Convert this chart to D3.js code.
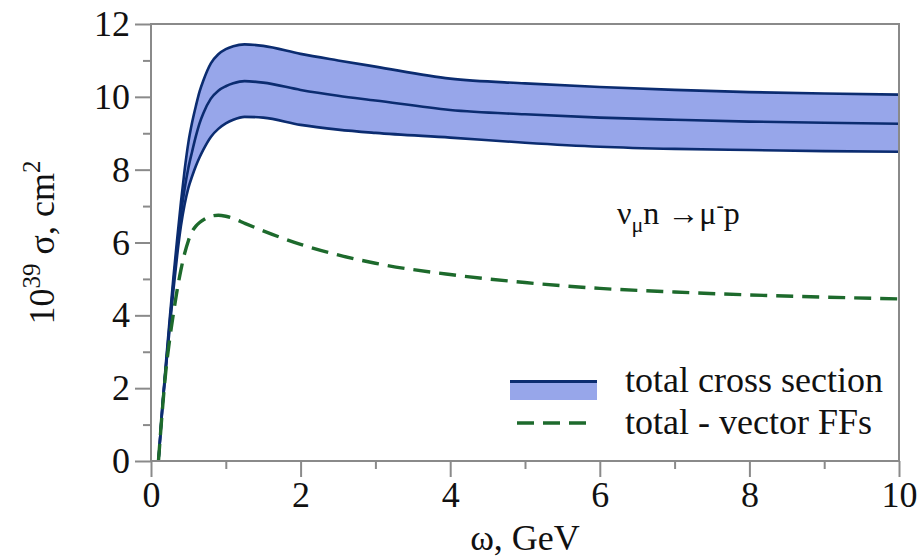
<!DOCTYPE html>
<html>
<head>
<meta charset="utf-8">
<script src="https://cdn.jsdelivr.net/npm/d3@7"></script>
<style>
  html, body { margin: 0; padding: 0; background: #fff; }
  svg { display: block; }
  svg text { font-family: "Liberation Serif", "DejaVu Serif", serif !important; fill: #111; }
</style>
</head>
<body>
<svg id="chart" width="923" height="557"></svg>
<script>
// ---- data ----
const omega = [0.1,0.15,0.2,0.25,0.3,0.35,0.4,0.45,0.5,0.55,0.6,0.65,0.7,0.8,0.9,1.0,1.1,1.25,1.5,2.0,2.5,3.0,4.0,5.0,6.0,7.0,8.0,9.0,10.0];
const sigmaUpper   = [0,1.45,2.7,3.9,5.05,6.1,7.1,8.0,8.75,9.3,9.75,10.15,10.45,10.92,11.17,11.31,11.39,11.44,11.4,11.18,11.0,10.83,10.5,10.37,10.27,10.19,10.13,10.09,10.06];
const sigmaCentral = [0,1.42,2.62,3.78,4.88,5.88,6.78,7.48,8.05,8.5,8.92,9.28,9.55,9.95,10.17,10.29,10.37,10.43,10.39,10.19,10.03,9.9,9.64,9.52,9.43,9.37,9.32,9.29,9.26];
const sigmaLower   = [0,1.4,2.55,3.65,4.7,5.65,6.45,7.05,7.5,7.82,8.1,8.34,8.55,8.9,9.12,9.27,9.37,9.45,9.43,9.23,9.1,9.01,8.88,8.74,8.63,8.57,8.54,8.51,8.49];
const sigmaNoVector = [0,1.35,2.5,3.35,4.05,4.7,5.25,5.7,6.05,6.3,6.45,6.55,6.62,6.72,6.75,6.72,6.66,6.53,6.32,5.95,5.66,5.43,5.12,4.9,4.74,4.64,4.56,4.5,4.45];

const xMajorTicks = [0,2,4,6,8,10];
const xMinorTicks = [1,3,5,7,9];
const yMajorTicks = [0,2,4,6,8,10,12];
const yMinorTicks = [1,3,5,7,9,11];
const legendLabels = ["total cross section", "total - vector FFs"];

// ---- layout ----
const FONT = '"Liberation Serif", "DejaVu Serif", serif';
const svg = d3.select("#chart");
const L = 151, R = 899, T = 24, B = 461;
const x = d3.scaleLinear().domain([0,10]).range([L,R]);
const y = d3.scaleLinear().domain([0,12]).range([B,T]);

const frameColor = "#8a8a8a";
const bandFill = "#97a6ea";
const lineColor = "#0b2c70";
const dashColor = "#1d6a2c";

const rows = omega.map((w,i) => ({w, up: sigmaUpper[i], c: sigmaCentral[i], lo: sigmaLower[i], nv: sigmaNoVector[i]}));

const curve = d3.curveMonotoneX;
svg.append("path")
  .datum(rows)
  .attr("d", d3.area().x(d => x(d.w)).y0(d => y(d.lo)).y1(d => y(d.up)).curve(curve))
  .attr("fill", bandFill);

["up","c","lo"].forEach(k => {
  svg.append("path")
    .datum(rows)
    .attr("d", d3.line().x(d => x(d.w)).y(d => y(d[k])).curve(curve))
    .attr("fill","none").attr("stroke", lineColor).attr("stroke-width", 2.6);
});

svg.append("path")
  .datum(rows)
  .attr("d", d3.line().x(d => x(d.w)).y(d => y(d.nv)).curve(curve))
  .attr("fill","none").attr("stroke", dashColor).attr("stroke-width", 3.4)
  .attr("stroke-dasharray", "17,9");

// ---- frame ----
svg.append("rect")
  .attr("x", L).attr("y", T).attr("width", R-L).attr("height", B-T)
  .attr("fill","none").attr("stroke", frameColor).attr("stroke-width", 2);

// ---- axes ----
function styleAxis(g) {
  g.attr("font-family", FONT);
  g.select(".domain").remove();
  g.selectAll(".tick line").attr("stroke", frameColor).attr("stroke-width", 2);
  g.selectAll(".tick text").attr("font-family", FONT).attr("font-size", 36).attr("fill", "#111");
}
const gx = svg.append("g").attr("transform", `translate(0,${B})`)
  .call(d3.axisBottom(x).tickValues(xMajorTicks).tickSize(16).tickPadding(4).tickFormat(d3.format("d")));
styleAxis(gx);
const gxm = svg.append("g").attr("transform", `translate(0,${B})`)
  .call(d3.axisBottom(x).tickValues(xMinorTicks).tickSize(8).tickFormat(""));
styleAxis(gxm);

const gy = svg.append("g").attr("transform", `translate(${L},0)`)
  .call(d3.axisLeft(y).tickValues(yMajorTicks).tickSize(16).tickPadding(5).tickFormat(d3.format("d")));
styleAxis(gy);
const gym = svg.append("g").attr("transform", `translate(${L},0)`)
  .call(d3.axisLeft(y).tickValues(yMinorTicks).tickSize(8).tickFormat(""));
styleAxis(gym);

// ---- axis titles ----
svg.append("text")
  .attr("x", (L+R)/2).attr("y", 550)
  .attr("text-anchor","middle").attr("font-size", 36).attr("font-family", FONT)
  .text("ω, GeV");

const yt = svg.append("text")
  .attr("transform", `translate(54,${(T+B)/2}) rotate(-90)`)
  .attr("text-anchor","middle").attr("font-size", 36).attr("font-family", FONT);
yt.append("tspan").text("10");
yt.append("tspan").attr("font-size", 25).attr("dy", -14).text("39");
yt.append("tspan").attr("dy", 14).text(" σ, cm");
yt.append("tspan").attr("font-size", 25).attr("dy", -14).text("2");

// ---- reaction label ----
const rl = svg.append("text").attr("x", 617).attr("y", 224).attr("font-size", 32).attr("font-family", FONT);
rl.append("tspan").text("ν");
rl.append("tspan").attr("font-size", 22).attr("dy", 8).text("μ");
rl.append("tspan").attr("dy", -8).text("n →μ");
rl.append("tspan").attr("font-size", 22).attr("dy", -12).text("-");
rl.append("tspan").attr("dy", 12).text("p");

// ---- legend ----
svg.append("rect").attr("x", 510).attr("y", 380).attr("width", 87).attr("height", 20).attr("fill", bandFill);
svg.append("line").attr("x1", 510).attr("x2", 597).attr("y1", 381.5).attr("y2", 381.5)
  .attr("stroke", lineColor).attr("stroke-width", 3);
svg.append("line").attr("x1", 517).attr("x2", 590).attr("y1", 423).attr("y2", 423)
  .attr("stroke", dashColor).attr("stroke-width", 3.4).attr("stroke-dasharray", "17,9");
svg.selectAll("text.leg").data(legendLabels).enter().append("text")
  .attr("class","leg")
  .attr("x", 625).attr("y", (d,i) => 392 + i*42)
  .attr("font-size", 36).attr("font-family", FONT).text(d => d);
</script>
</body>
</html>
